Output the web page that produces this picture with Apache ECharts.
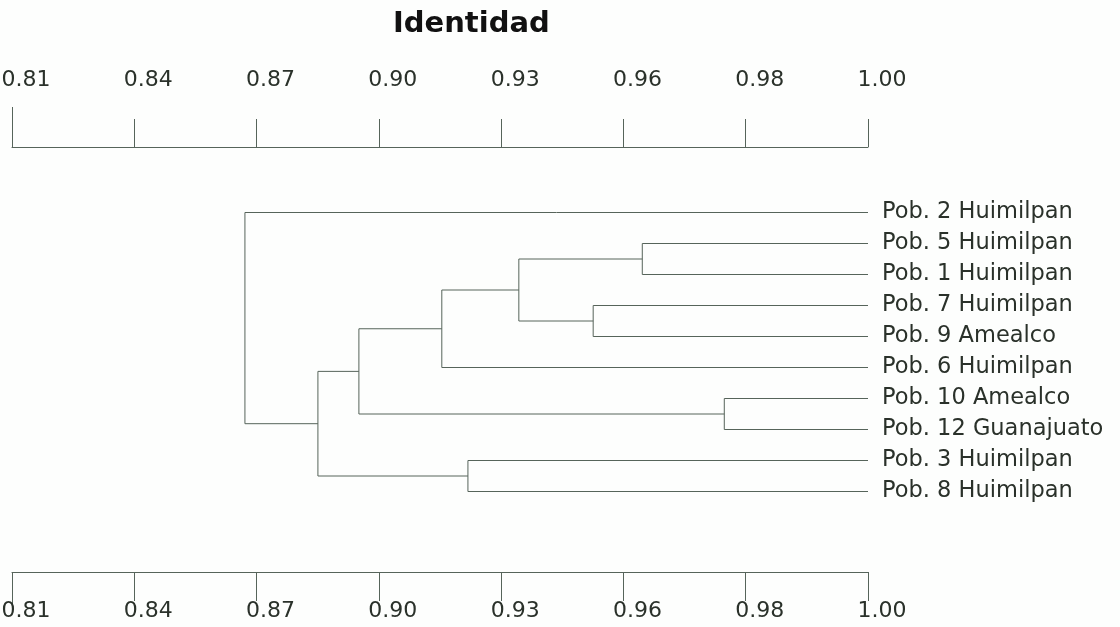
<!DOCTYPE html>
<html>
<head>
<meta charset="utf-8">
<script src="https://cdn.jsdelivr.net/npm/echarts@6/dist/echarts.min.js"></script>
<style>
html,body{margin:0;padding:0;background:#fdfefd;}
#chart{width:1120px;height:627px;}
</style>
</head>
<body>
<div id="chart"></div>
<script>
// Leaves, top to bottom
const leaves = ['Pob. 2 Huimilpan','Pob. 5 Huimilpan','Pob. 1 Huimilpan','Pob. 7 Huimilpan','Pob. 9 Amealco','Pob. 6 Huimilpan','Pob. 10 Amealco','Pob. 12 Guanajuato','Pob. 3 Huimilpan','Pob. 8 Huimilpan'];
// Axis tick labels (evenly spaced ticks from 0.81 to 1.00)
const tickLabels = ['0.81','0.84','0.87','0.90','0.93','0.96','0.98','1.00'];
const axisMin = 0.81, axisMax = 1.00;
// Merges: node ids 0..9 are leaves, merge k creates node 10+k
const mergeA = [1, 3, 6, 8, 10, 14, 15, 16, 0];
const mergeB = [2, 4, 7, 9, 11, 5, 12, 13, 17];
const mergeIdentity = [0.9499, 0.9390, 0.9681, 0.9112, 0.9225, 0.9054, 0.8870, 0.8779, 0.8617];

const lineColor = '#56645a';
const textColor = '#2a312a';
const step = (axisMax - axisMin) / (tickLabels.length - 1);
const tickValues = tickLabels.map((_, i) => axisMin + i * step);

// node positions
const nodeX = [], nodeY = [];
leaves.forEach((_, i) => { nodeX[i] = axisMax; nodeY[i] = i; });
const segs = [];
mergeA.forEach((a, k) => {
  const b = mergeB[k], h = mergeIdentity[k], id = leaves.length + k;
  nodeX[id] = h;
  nodeY[id] = (nodeY[a] + nodeY[b]) / 2;
  segs.push({coords: [[nodeX[a], nodeY[a]], [h, nodeY[a]], [h, nodeY[b]], [nodeX[b], nodeY[b]]]});
});

const chart = echarts.init(document.getElementById('chart'));
const font = 'DejaVu Sans';
const axisCommon = (gi, pos, showLine, tickLen, values, labels, margin) => ({
  type: 'value', gridIndex: gi, position: pos, min: axisMin, max: axisMax,
  axisLine: {show: showLine, onZero: false, lineStyle: {color: lineColor, width: 1}},
  axisTick: {show: true, length: tickLen, customValues: values, lineStyle: {color: lineColor, width: 1}},
  splitLine: {show: false},
  axisLabel: labels ? {
    show: true, customValues: values, margin: margin, color: textColor,
    fontFamily: font, fontSize: 22, align: 'center', padding: [0, 0, 0, 28],
    formatter: v => tickLabels[Math.round((v - axisMin) / step)]
  } : {show: false}
});
const g = (top, bottom) => ({left: 12, right: 252, top: top, bottom: bottom, outerBoundsMode: 'none', containLabel: false});

chart.setOption({
  backgroundColor: '#fdfefd',
  animation: false,
  title: {
    text: 'Identidad', left: 388, top: 5,
    textStyle: {fontFamily: font, fontWeight: 'bold', fontSize: 29, color: '#111'}
  },
  grid: [g(212.5, 135.5), g(147, 55), g(147, 55)],
  xAxis: [
    {type: 'value', gridIndex: 0, min: axisMin, max: axisMax, show: false},
    axisCommon(1, 'top', true, 28, tickValues, true, 56),
    axisCommon(1, 'bottom', true, 29, tickValues, true, 28),
    axisCommon(2, 'top', false, 40, [axisMin], false),
    axisCommon(2, 'bottom', false, 38, [axisMin], false)
  ],
  yAxis: [
    {type: 'value', gridIndex: 0, min: 0, max: leaves.length - 1, interval: 1, inverse: true,
     position: 'right', axisLine: {show: false}, axisTick: {show: false}, splitLine: {show: false},
     axisLabel: {margin: 14, color: textColor, fontFamily: font, fontSize: 22.5,
       formatter: v => leaves[v] || ''}},
    {type: 'value', gridIndex: 1, show: false},
    {type: 'value', gridIndex: 2, show: false}
  ],
  series: [{
    type: 'lines', coordinateSystem: 'cartesian2d', xAxisIndex: 0, yAxisIndex: 0,
    polyline: true, silent: true,
    lineStyle: {color: lineColor, width: 1, opacity: 1},
    data: segs
  }]
});
</script>
</body>
</html>
